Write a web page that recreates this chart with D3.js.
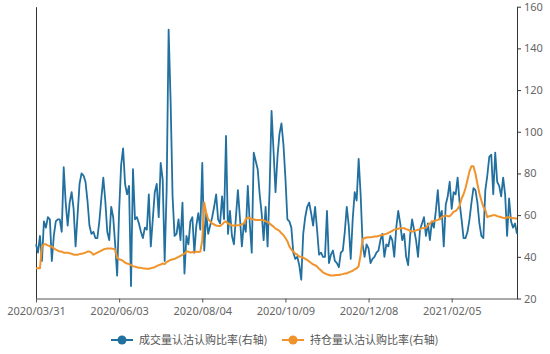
<!DOCTYPE html>
<html>
<head>
<meta charset="utf-8">
<script src="https://cdn.jsdelivr.net/npm/d3@7"></script>
<style>
    body { margin: 0; background: #fff; }
    text { font-family: "Noto Sans CJK SC", "Noto Sans", sans-serif; }
</style>
</head>
<body>
<script>
// Tick labels on the category axis and the category index each one sits on.
var tickLabels = ["2020/03/31", "2020/06/03", "2020/08/04", "2020/10/09", "2020/12/08", "2021/02/05"];
var tickIndex = [0, 42, 84, 126, 168, 210];

// Series names.
var seriesNames = ["成交量认沽认购比率(右轴)", "持仓量认沽认购比率(右轴)"];

// Volume put/call ratio, one value per trading day.
var volumeRatio = [
    46, 42, 50, 38, 57, 54, 59, 58, 38, 50, 57, 58, 58, 52, 83, 66, 55, 66, 71, 63,
    45, 60, 75, 80, 79, 76, 67, 55, 51, 52, 49, 49, 57, 68, 78, 67, 52, 48, 64, 59,
    46, 31, 62, 84, 92, 75, 70, 74, 26, 82,
    58, 59, 56, 52, 49, 54, 53, 70, 45, 58, 71, 75, 59, 85, 77, 38, 72, 149, 115, 69,
    50, 51, 58, 48, 66, 32, 50, 46, 57, 59, 42, 55, 61, 53, 85, 43, 61, 51, 55, 59,
    64, 70, 58, 56, 69, 58, 98, 51, 62,
    50, 46, 59, 72, 59, 45, 56, 52, 74, 56, 42, 90, 86, 82, 70, 61, 48, 64, 45, 72,
    110, 91, 71, 88, 99, 104, 94, 78, 58, 57, 54, 42, 39, 40, 36, 29, 51, 59, 64, 66,
    61, 55, 64, 53, 41, 42, 40, 40, 62, 37,
    41, 43, 38, 37, 35, 42, 43, 52, 64, 55, 39, 58, 71, 67, 87, 70, 46, 40, 46, 44,
    37, 39, 40, 42, 43, 48, 51, 40, 46, 45, 50, 48, 40, 54, 62, 56, 48, 51, 40, 36,
    50, 58, 53, 48, 40, 53, 56, 59,
    50, 56, 48, 57, 54, 62, 72, 58, 62, 45, 65, 69, 76, 63, 71, 70, 78, 66, 58, 49,
    49, 52, 58, 66, 73, 72, 66, 56, 50, 49, 72, 79, 88, 89, 70, 90, 76, 74, 69, 78,
    70, 50, 68, 57, 54, 56, 51
];

// Open interest put/call ratio, one value per trading day.
var oiRatio = [
    34.5, 34.5, 34.5, 45, 46, 46, 45.5, 45, 45, 44, 43.5, 43, 42.5, 42.5, 42, 42, 42, 41.7, 41.5, 41,
    41, 41, 41.3, 41.5, 41.7, 42, 42.5, 42.5, 42, 41, 41.5, 42, 42.5, 43, 43.5, 43.8, 44, 44, 44, 43.8,
    43.5, 39.5, 38.8, 38.5, 38, 37.2, 36.8, 36.5, 36, 35.5, 35.3, 35, 34.8, 34.7, 34.5, 34.4, 34.3, 34.3, 34.5, 34.8,
    35, 35.5, 36, 36.3, 36.8, 36.5, 37.5, 38, 38.5, 38.8, 39, 39.5, 40, 40.5, 41, 41.5, 42.5, 42.5, 42, 42.3,
    42, 42.5, 42.3, 42.5, 48, 66, 61, 58, 57, 56, 55.5, 55, 54.8, 54.8, 55.5, 56.5, 57, 56, 55.5, 55,
    55, 55, 55.2, 55.2, 55.5, 56, 58, 59, 58.5, 58, 58, 57.7, 57.7, 57.7, 57.7, 57.5, 57, 56.8, 56, 55.2,
    54.5, 53.5, 53, 52.5, 51.3, 50.5, 49, 47.5, 45, 43.5, 42.5, 41.5, 41, 40.2, 40, 39.6, 39, 38.5, 37.8, 37,
    36.3, 36, 35.3, 34.3, 33.5, 32.5, 32, 31.6, 31.3, 31, 31, 31.2, 31.3, 31.3, 31.5, 31.7, 32, 32.1, 32.5, 32.9,
    33.3, 34, 34.5, 35.5, 41, 48.5, 49, 49.3, 49.4, 49.4, 49.5, 49.7, 49.7, 50, 50.3, 50.5, 50.8, 51, 51.5, 52,
    52.5, 53, 53.2, 53.5, 53.7, 53.7, 53.7, 53.3, 53, 52.5, 52.1, 52.3, 52.7, 53, 53.3, 53.7, 53.8, 54, 55, 56,
    56.9, 57.2, 57.5, 57.7, 58.2, 59, 59.5, 59.8, 59.5, 59.5, 60.5, 61.7, 62, 63, 64.5, 68, 70, 73, 77, 81,
    83.5, 83.5, 80, 75, 70.5, 67, 64, 62.5, 59, 59.5, 59.7, 60, 60, 59.5, 59.3, 59, 58.7, 58.5, 59, 59,
    58.7, 58.5, 58.5, 58.3
];

var colors = ["#22709f", "#f0932b"];

// Plot box.
var plotLeft = 36;
var plotRight = 517;
var plotTop = 6.7;
var plotBottom = 298.5;

var xScale = d3.scaleLinear()
               .domain([0, volumeRatio.length - 1])
               .range([plotLeft, plotRight]);

var yScale = d3.scaleLinear()
               .domain([20, 160])
               .range([plotBottom, plotTop]);

var svg = d3.select("body").append("svg")
            .attr("width", 550)
            .attr("height", 354);

// Left axis: only the line.
svg.append("g")
   .attr("class", "y_axis_left")
   .attr("transform", "translate(" + plotLeft + ", 0)")
   .call(d3.axisLeft(yScale).tickValues([]).tickSizeOuter(0))
   .call(g => g.select(".domain").attr("stroke", "#333"));

// Right axis with the labels.
svg.append("g")
   .attr("class", "y_axis_right")
   .attr("transform", "translate(" + plotRight + ", 0)")
   .call(d3.axisRight(yScale).tickValues([20, 40, 60, 80, 100, 120, 140, 160])
           .tickSize(4).tickPadding(3).tickSizeOuter(0))
   .call(g => g.select(".domain").attr("stroke", "#333"))
   .call(g => g.selectAll(".tick line").attr("stroke", "#333"))
   .call(g => g.selectAll(".tick text")
               .attr("fill", "#666")
               .style("font-size", "11px")
               .style("font-family", "'Noto Sans', sans-serif"));

// Bottom category axis.
svg.append("g")
   .attr("class", "x_axis")
   .attr("transform", "translate(0, " + plotBottom + ")")
   .call(d3.axisBottom(xScale).tickValues(tickIndex)
           .tickFormat((d, i) => tickLabels[i])
           .tickSize(4).tickPadding(5).tickSizeOuter(0))
   .call(g => g.select(".domain").attr("stroke", "#555"))
   .call(g => g.selectAll(".tick line").attr("stroke", "#555"))
   .call(g => g.selectAll(".tick text")
               .attr("fill", "#666")
               .style("font-size", "11px")
               .style("font-family", "'Noto Sans', sans-serif"));

// Lines.
var line = d3.line()
             .x((d, i) => xScale(i))
             .y(d => yScale(d));

var series = [volumeRatio, oiRatio];

svg.append("g")
   .attr("class", "lines")
   .selectAll("path")
   .data(series)
   .enter()
   .append("path")
   .attr("fill", "none")
   .attr("stroke", (d, i) => colors[i])
   .attr("stroke-width", (d, i) => i == 0 ? 1.8 : 2)
   .attr("stroke-linejoin", "round")
   .attr("d", d => line(d));

// Legend at the bottom.
var legendX = [122, 293];
var legend = svg.append("g")
                .attr("class", "legend")
                .attr("transform", "translate(0, 340)");

var item = legend.selectAll(".item")
                 .data(seriesNames)
                 .enter()
                 .append("g")
                 .attr("class", "item")
                 .attr("transform", (d, i) => "translate(" + legendX[i] + ", 0)");

item.append("line")
    .attr("x1", -11)
    .attr("x2", 11)
    .attr("stroke", (d, i) => colors[i])
    .attr("stroke-width", 2);

item.append("circle")
    .attr("r", 4.5)
    .attr("fill", (d, i) => colors[i]);

item.append("text")
    .attr("x", 17)
    .attr("dy", "0.35em")
    .attr("fill", "#555")
    .style("font-size", "11px")
    .text(d => d);
</script>
</body>
</html>
